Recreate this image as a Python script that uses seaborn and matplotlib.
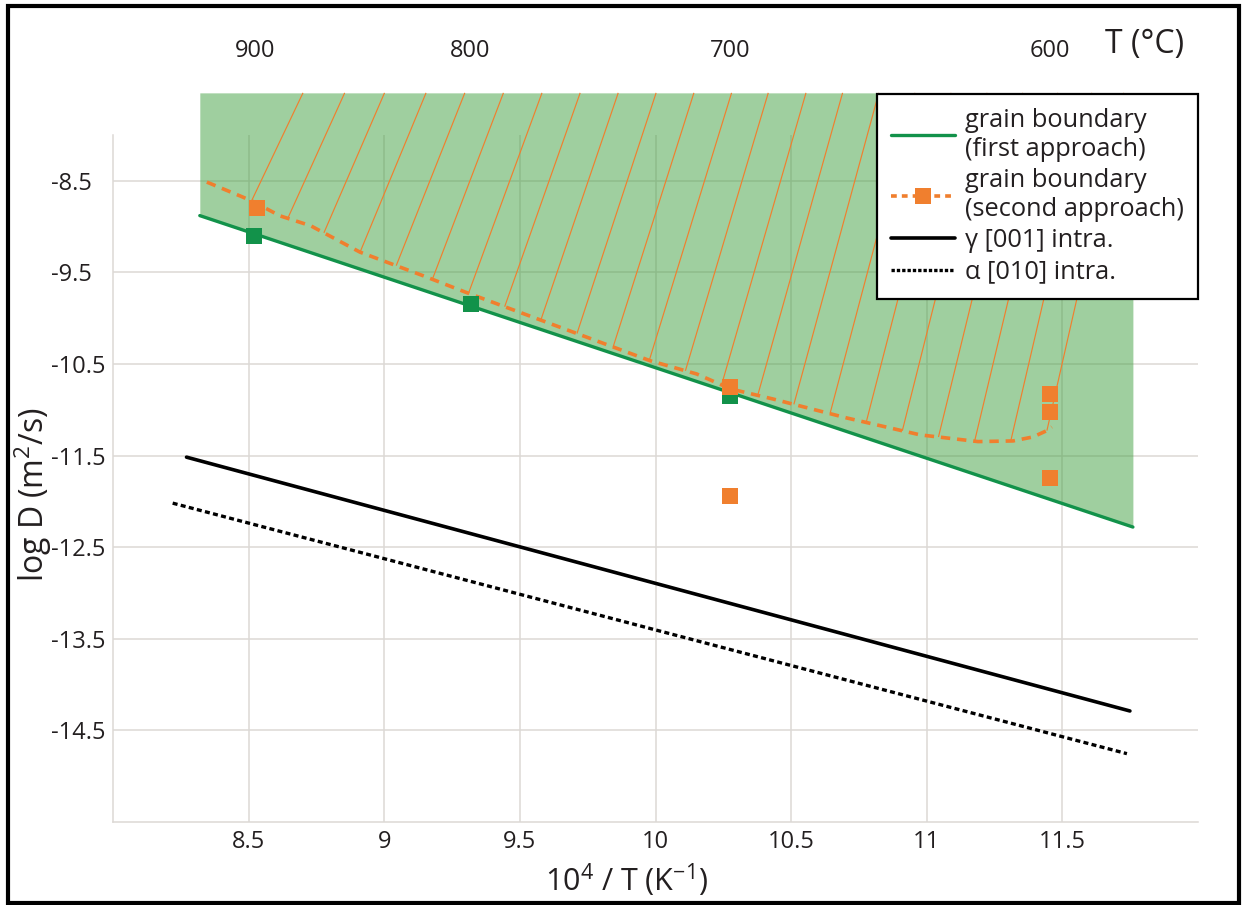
import numpy as np
import pandas as pd
import matplotlib
matplotlib.use("Agg")
import matplotlib.pyplot as plt
import seaborn as sns
from matplotlib.patches import Rectangle
from matplotlib.lines import Line2D
from matplotlib.collections import LineCollection

# ---------------- data ----------------
x_ticks = [8.5, 9, 9.5, 10, 10.5, 11, 11.5]
x_ticklabels = ["8.5", "9", "9.5", "10", "10.5", "11", "11.5"]
y_ticks = [-8.5, -9.5, -10.5, -11.5, -12.5, -13.5, -14.5]
y_ticklabels = ["-8.5", "-9.5", "-10.5", "-11.5", "-12.5", "-13.5", "-14.5"]
temp_ticks_c = [900, 800, 700, 600]

# grain boundary, first approach (fit line + points)
gb1_line_x = [8.32, 11.76]
gb1_line_y = [-8.88, -12.28]
gb1_pts_x = [8.52, 9.318, 10.276]
gb1_pts_y = [-9.10, -9.845, -10.85]

# grain boundary, second approach (points + curve)
gb2_pts_x = [8.53, 10.276, 10.276, 11.453, 11.453, 11.453]
gb2_pts_y = [-8.80, -10.754, -11.936, -10.827, -11.027, -11.747]
gb2_curve_x = [8.346, 8.511, 8.615, 8.729, 8.910, 9.143, 9.298, 9.60, 9.80,
               9.980, 10.152, 10.278, 10.433, 10.705, 10.976, 11.189, 11.318,
               11.392, 11.443, 11.461]
gb2_curve_y = [-8.514, -8.718, -8.882, -8.991, -9.278, -9.536, -9.714, -10.046,
               -10.266, -10.464, -10.609, -10.773, -10.882, -11.089, -11.274,
               -11.347, -11.340, -11.296, -11.227, -11.187]

# intracrystalline diffusion
gamma_x = [8.271, 11.749]
gamma_y = [-11.517, -14.288]
alpha_x = [8.220, 11.738]
alpha_y = [-12.019, -14.754]

region_top = -7.54

labels = ["grain boundary\n(first approach)", "grain boundary\n(second approach)",
          "\u03b3 [001] intra.", "\u03b1 [010] intra."]

# ---------------- style ----------------
GREEN = "#12924a"
FILL = "#41a041"
ORANGE = "#f07f2e"
GRID = "#dcd8d5"
TXT = "#231f20"

sns.set_theme(style="whitegrid")
plt.rcParams["font.family"] = ["Open Sans", "DejaVu Sans"]
plt.rcParams["mathtext.fontset"] = "custom"
plt.rcParams["mathtext.rm"] = "Open Sans"
plt.rcParams["mathtext.it"] = "Open Sans"
plt.rcParams["axes.unicode_minus"] = False

fig = plt.figure(figsize=(12.42, 9.05), dpi=100)
ax = fig.add_axes([113 / 1242, 1 - 822 / 905, (1198 - 113) / 1242, (822 - 135) / 905])
ax.set_xlim(8.0, 12.0)
ax.set_ylim(-15.5, -8.0)
ax.set_facecolor("white")

ax.grid(True, color=GRID, lw=1.1, zorder=0)
ax.set_axisbelow(True)
for s in ["top", "right"]:
    ax.spines[s].set_visible(False)
for s in ["left", "bottom"]:
    ax.spines[s].set_color(GRID)
    ax.spines[s].set_linewidth(1.1)

ax.set_xticks(x_ticks)
ax.set_xticklabels(x_ticklabels)
ax.set_yticks(y_ticks)
ax.set_yticklabels(y_ticklabels)
ax.tick_params(axis="both", length=0, labelsize=17, labelcolor=TXT)
ax.tick_params(axis="x", pad=6)
ax.tick_params(axis="y", pad=45)
for lab in ax.get_yticklabels():
    lab.set_ha("left")

# shaded region (above first-approach line)
ax.fill_between(gb1_line_x, gb1_line_y, [region_top, region_top], color=FILL,
                alpha=0.5, lw=0, zorder=1, clip_on=False)

# hatch lines from second-approach curve up to the top of the region
fig.canvas.draw()
n_h = 23
bx_px0 = ax.transData.transform((gb2_curve_x[1], 0))[0]
bx_px1 = ax.transData.transform((11.443, 0))[0]
bot_px = np.linspace(bx_px0, bx_px1, n_h)
slopes = np.linspace(2.1, 4.4, n_h)
top_disp_y = ax.transData.transform((0, region_top))[1]
segs = []
for bx, sl in zip(bot_px, slopes):
    xd = ax.transData.inverted().transform((bx, 0))[0]
    yd = np.interp(xd, gb2_curve_x, gb2_curve_y)
    bdx, bdy = ax.transData.transform((xd, yd))
    h = top_disp_y - bdy
    tdx = bdx + h / sl
    tx, ty = ax.transData.inverted().transform((tdx, top_disp_y))
    segs.append([(xd, yd), (tx, ty)])
lc = LineCollection(segs, colors=ORANGE, linewidths=0.85, zorder=2, clip_on=False)
ax.add_collection(lc)

# lines
df_g = pd.DataFrame({"x": gamma_x, "y": gamma_y})
df_a = pd.DataFrame({"x": alpha_x, "y": alpha_y})
df_1 = pd.DataFrame({"x": gb1_line_x, "y": gb1_line_y})
df_c = pd.DataFrame({"x": gb2_curve_x, "y": gb2_curve_y})

sns.lineplot(data=df_g, x="x", y="y", ax=ax, color="black", lw=2.6,
             estimator=None, sort=False, zorder=3)
sns.lineplot(data=df_a, x="x", y="y", ax=ax, color="black", lw=2.4,
             estimator=None, sort=False, zorder=3)
ax.lines[-1].set_dashes((1.5, 1.0))
sns.lineplot(data=df_1, x="x", y="y", ax=ax, color=GREEN, lw=2.4,
             estimator=None, sort=False, zorder=3)
sns.lineplot(data=df_c, x="x", y="y", ax=ax, color=ORANGE, lw=2.6,
             estimator=None, sort=False, zorder=4)
ax.lines[-1].set_dashes((2.6, 1.9))

sns.scatterplot(x=gb1_pts_x, y=gb1_pts_y, ax=ax, marker="s", s=135, color=GREEN,
                linewidth=0, zorder=5)
sns.scatterplot(x=gb2_pts_x, y=gb2_pts_y, ax=ax, marker="s", s=135, color=ORANGE,
                linewidth=0, zorder=6)

ax.set_xlabel("10$^{4}$ / T (K$^{-1}$)", fontsize=22, color=TXT)
ax.set_ylabel("log D (m$^{2}$/s)", fontsize=23, color=TXT)
ax.xaxis.set_label_coords((627 - 113) / 1085, -(880 - 822) / 687)
ax.xaxis.label.set_va("center")
ax.yaxis.set_label_coords(-(113 - 33) / 1085, (822 - 495) / 687)
ax.yaxis.label.set_va("center")

# top temperature axis
def k_to_c(x):
    x = np.asarray(x, dtype=float)
    with np.errstate(divide="ignore", invalid="ignore"):
        return 1e4 / x - 273.15

def c_to_k(c):
    c = np.asarray(c, dtype=float)
    with np.errstate(divide="ignore", invalid="ignore"):
        return 1e4 / (c + 273.15)

sec = ax.secondary_xaxis("top", functions=(k_to_c, c_to_k))
sec.set_xticks(temp_ticks_c)
sec.set_xticklabels([str(t) for t in temp_ticks_c])
sec.tick_params(length=0, pad=52, labelsize=17, labelcolor=TXT)
sec.spines["top"].set_visible(False)
fig.text(1145 / 1242, 1 - 44 / 905, "T (\u00b0C)", fontsize=23, color=TXT,
         ha="center", va="center")

# legend
handles = [
    Line2D([], [], color=GREEN, lw=2.4),
    Line2D([], [], color=ORANGE, lw=2.6, dashes=(1.6, 1.4), marker="s",
           markersize=12, markeredgewidth=0),
    Line2D([], [], color="black", lw=2.6),
    Line2D([], [], color="black", lw=2.4, dashes=(1.0, 0.6)),
]
leg = ax.legend(handles, labels, loc="upper right",
                bbox_to_anchor=(1198 / 1242, 1 - 94 / 905),
                bbox_transform=fig.transFigure, frameon=True, fancybox=False,
                framealpha=1, edgecolor="black", fontsize=18.3, borderaxespad=0,
                handlelength=2.5, handletextpad=0.4, labelspacing=0.25,
                borderpad=0.55, numpoints=1)
leg.get_frame().set_linewidth(1.6)
leg.set_zorder(10)
for t in leg.get_texts():
    t.set_color(TXT)

# outer frame
fig.patches.append(Rectangle((8 / 1242, 2 / 905), (1239 - 8) / 1242, (899 - 2) / 905,
                             transform=fig.transFigure, fill=False, lw=3,
                             ec="black", zorder=20))

fig.savefig("out.png", dpi=100, facecolor="white")
